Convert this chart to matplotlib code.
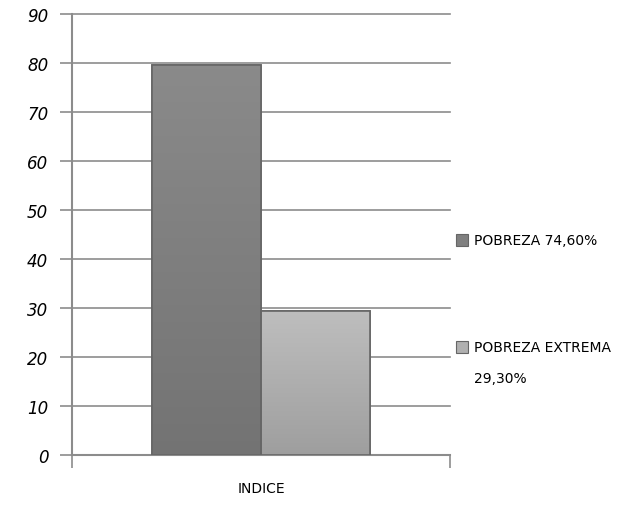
import matplotlib
matplotlib.use("Agg")
import matplotlib.pyplot as plt
from matplotlib.patches import Rectangle
import numpy as np

categories = ["INDICE"]
series_names = ["POBREZA 74,60%", "POBREZA EXTREMA\n29,30%"]
values = [79.6, 29.4]
colors = ["#808080", "#b0b0b0"]
yticks = [0, 10, 20, 30, 40, 50, 60, 70, 80, 90]

fig = plt.figure(figsize=(6.28, 5.10), dpi=100)
ax = fig.add_axes([72/628, 54/510, 378/628, 441/510])

width = 0.288
offsets = [-width/2, width/2]
for i, (v, c) in enumerate(zip(values, colors)):
    b = ax.bar(offsets[i], v, width=width, color=c, edgecolor="#666666",
               linewidth=1.2, zorder=3)
    patch = b.patches[0]
    base = np.array(matplotlib.colors.to_rgb(c))
    grad = np.linspace(1.08, 0.9, 256)[:, None, None] * base[None, None, :]
    grad = np.clip(grad, 0, 1)
    x0 = patch.get_x(); w = patch.get_width(); h = patch.get_height()
    im = ax.imshow(grad, extent=[x0, x0 + w, 0, h], origin="upper",
                   aspect="auto", zorder=3.5)
    im.set_clip_path(patch)
    ax.add_patch(Rectangle((x0, 0), w, h, fill=False, edgecolor="#666666",
                           linewidth=1.2, zorder=4))

ax.set_xlim(-0.5, 0.5)
ax.set_ylim(0, 90)
ax.set_yticks(yticks)
ax.set_yticklabels([str(t) for t in yticks], fontstyle="italic", fontsize=12)
ax.yaxis.grid(True, color="#8c8c8c", linewidth=1.2, zorder=0)
for gl in ax.yaxis.get_gridlines():
    gl.set_clip_on(False)
ax.set_axisbelow(True)
ax.set_xticks([-0.5, 0.5])
ax.set_xticklabels(["", ""])
ax.tick_params(axis="y", length=9, color="#8c8c8c", width=1.2, pad=8)
ax.tick_params(axis="x", length=9, color="#8c8c8c", width=1.2)
for s in ["top", "right"]:
    ax.spines[s].set_visible(False)
for s in ["left", "bottom"]:
    ax.spines[s].set_color("#8c8c8c")
    ax.spines[s].set_linewidth(1.5)
ax.text(0.5, -0.075, categories[0], transform=ax.transAxes, ha="center",
        va="center", fontsize=10)

legend_y = [241, 348]
for i, name in enumerate(series_names):
    y = 1 - legend_y[i] / 510
    fig.patches.append(Rectangle((456/628, y - 6/510), 12/628, 12/510,
                                 transform=fig.transFigure, facecolor=colors[i],
                                 edgecolor="#666666", linewidth=0.8))
    lines = name.split("\n")
    fig.text(474/628, y, lines[0], fontsize=10, va="center", ha="left")
    if len(lines) > 1:
        fig.text(474/628, y - 31/510, lines[1], fontsize=10, va="center",
                 ha="left")

fig.savefig("out.png", dpi=100)
